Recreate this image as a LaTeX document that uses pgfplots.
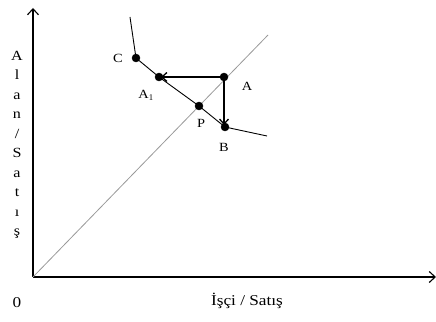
\documentclass[border=0pt]{standalone}
\usepackage{fontspec}
\setmainfont{Liberation Serif}
\newfontfamily\widefont[FakeStretch=1.15]{Liberation Serif}
\usepackage{pgfplots}
\pgfplotsset{compat=1.18}
\usetikzlibrary{arrows.meta}

\begin{document}
\begin{tikzpicture}[x=1pt,y=1pt]
\begin{axis}[
  scale only axis, width=403pt, height=269pt,
  xmin=0, xmax=403, ymin=0, ymax=269,
  axis lines=left,
  axis line style={line width=1.1pt,-{Straight Barb[length=6pt,width=11pt]}},
  xtick=\empty, ytick=\empty,
  clip=false,
]
% 45-degree line from the origin
\addplot[gray!80, line width=0.8pt] coordinates {(0,0) (235,242)};
% kinked curve through C, A1, P and B
\addplot[black, line width=0.9pt] coordinates {(97,260) (103,219) (126,200) (166,171) (192,150) (234,141)};
% adjustment arrows
\addplot[black, line width=1.3pt, -{Straight Barb[length=5pt,width=9pt]}] coordinates {(191,200) (128,200)};
\addplot[black, line width=1.3pt, -{Straight Barb[length=5pt,width=9pt]}] coordinates {(191,200) (191,152)};
% points
\addplot[only marks, mark=*, mark size=4pt, black] coordinates {(103,219) (126,200) (191,200) (166,171) (192,150)};
% point labels
\node[font=\widefont\fontsize{12.5}{12.5}\selectfont] at (axis cs:85,219) {C};
\node[font=\widefont\fontsize{12.5}{12.5}\selectfont] at (axis cs:113,182) {A$_{\mathrm{1}}$};
\node[font=\widefont\fontsize{12.5}{12.5}\selectfont] at (axis cs:214,191) {A};
\node[font=\widefont\fontsize{12.5}{12.5}\selectfont] at (axis cs:168,154) {P};
\node[font=\widefont\fontsize{12.5}{12.5}\selectfont] at (axis cs:191,130) {B};
% axis labels
\node[font=\widefont\fontsize{15}{15}\selectfont] at (axis cs:-16,-26) {0};
\node[font=\widefont\fontsize{15}{15}\selectfont] at (axis cs:214,-24) {İşçi / Satış};
\node[font=\widefont\fontsize{14}{19.5}\selectfont, align=center] at (axis cs:-16,132)
  {A\\l\\a\\n\\/\\S\\a\\t\\ı\\ş};
\end{axis}
\pgfresetboundingbox
\path[use as bounding box] (-33,-44) rectangle (403,277);
\end{tikzpicture}
\end{document}
